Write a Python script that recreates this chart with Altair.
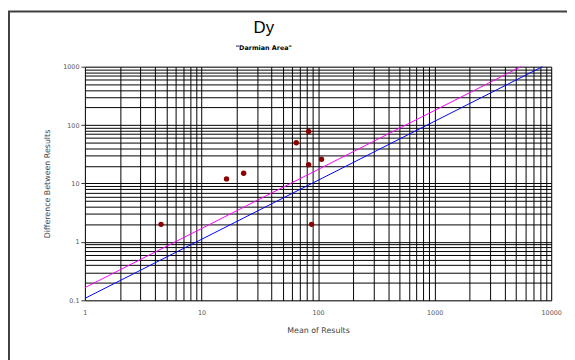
import altair as alt
import pandas as pd

# Data
mean_results = [4.5, 16.4, 23, 65, 83, 83, 107, 88]
diff_results = [2, 12, 15, 50, 78, 21, 26, 2]

blue_x = [1, 8400]
blue_y = [0.108, 1000]
magenta_x = [1, 5500]
magenta_y = [0.165, 1000]

x_ticks = [round(k * 10 ** e, 6) for e in range(0, 4) for k in range(1, 10)] + [10000]
y_ticks = [round(k * 10 ** e, 6) for e in range(-1, 3) for k in range(1, 10)] + [1000]
x_major = [1, 10, 100, 1000, 10000]
y_major = [0.1, 1, 10, 100, 1000]

pts = pd.DataFrame({"x": mean_results, "y": diff_results})
blue = pd.DataFrame({"x": blue_x, "y": blue_y})
mag = pd.DataFrame({"x": magenta_x, "y": magenta_y})

W, H = 473, 237

def major_test(vals):
    return "indexof([" + ",".join(str(v) for v in vals) + "], datum.value) >= 0"

xscale = alt.Scale(type="log", domain=[1, 10000], nice=False)
yscale = alt.Scale(type="log", domain=[0.1, 1000], nice=False)

xaxis = alt.Axis(
    values=x_ticks,
    labelExpr=f"({major_test(x_major)}) ? datum.label : ''",
    format="~g",
    grid=True,
    gridColor="#000000",
    gridWidth=1,
    ticks=False,
    domain=False,
    labelPadding=9,
    labelFontSize=6.5,
    labelColor="#555555",
    labelFont="DejaVu Sans",
    title="Mean of Results",
    titleFont="DejaVu Sans",
    titleFontSize=8,
    titleFontWeight="normal",
    titleColor="#444444",
    titlePadding=11,
    labelFlush=False,
    labelOverlap=False,
)
yaxis = alt.Axis(
    values=y_ticks,
    labelExpr=f"({major_test(y_major)}) ? datum.label : ''",
    format="~g",
    grid=True,
    gridColor="#000000",
    gridWidth=1,
    ticks=True,
    tickSize=4,
    tickColor="#333333",
    tickOpacity={"condition": {"test": major_test(y_major), "value": 1}, "value": 0},
    domain=False,
    labelPadding=2,
    labelFontSize=6.5,
    labelColor="#555555",
    labelFont="DejaVu Sans",
    title="Difference Between Results",
    titleFont="DejaVu Sans",
    titleFontSize=8,
    titleFontWeight="normal",
    titleColor="#444444",
    titlePadding=11,
    labelFlush=False,
    labelOverlap=False,
)

points = alt.Chart(pts).mark_circle(size=30, color="#8b0000", opacity=1).encode(
    x=alt.X("x:Q", scale=xscale, axis=xaxis),
    y=alt.Y("y:Q", scale=yscale, axis=yaxis),
)

blue_line = alt.Chart(blue).mark_line(color="#0000ff", strokeWidth=1).encode(
    x=alt.X("x:Q", scale=xscale),
    y=alt.Y("y:Q", scale=yscale),
)
mag_line = alt.Chart(mag).mark_line(color="#ff00ff", strokeWidth=1).encode(
    x=alt.X("x:Q", scale=xscale),
    y=alt.Y("y:Q", scale=yscale),
)

frame_data = alt.Data(values=[{"a": 1}])
frame_left = alt.Chart(frame_data).mark_rule(color="#404040", strokeWidth=2).encode(
    x=alt.value(-77), y=alt.value(-56), y2=alt.value(H + 70)
)
frame_top = alt.Chart(frame_data).mark_rule(color="#404040", strokeWidth=2).encode(
    x=alt.value(-78), x2=alt.value(W + 30), y=alt.value(-56)
)

chart = (
    alt.layer(blue_line, mag_line, points, frame_left, frame_top)
    .properties(
        width=W,
        height=H,
        autosize=alt.AutoSizeParams(type="none"),
        padding={"left": 78, "top": 57, "right": 16, "bottom": 58},
        title=alt.Title(
            text="Dy",
            subtitle='"Darmian Area"',
            font="Liberation Sans",
            fontSize=17,
            fontWeight="normal",
            color="#000000",
            subtitleFont="DejaVu Sans",
            subtitleFontSize=6.5,
            subtitleFontWeight="bold",
            subtitleColor="#000000",
            subtitlePadding=9,
            offset=-43,
            anchor="middle",
            frame="group",
            dx=-55,
        ),
    )
    .configure_view(stroke="#c0392b", strokeWidth=1.5)
    .configure(background="white")
)

chart.save("out.html", embed_options={"renderer": "svg", "actions": False})
